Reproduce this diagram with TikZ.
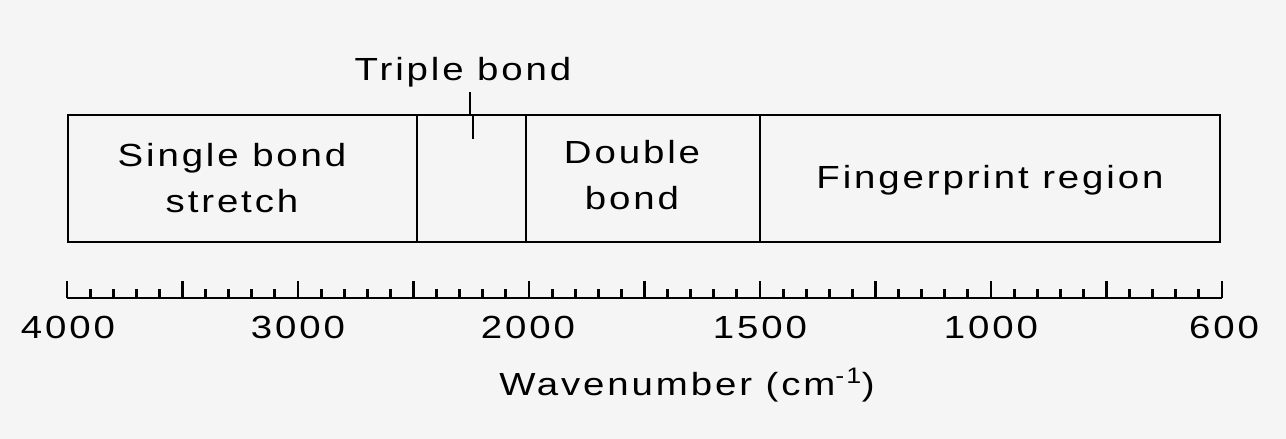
\documentclass[tikz,border=0pt]{standalone}
\usepackage{fontspec}
\setmainfont[FakeStretch=1.2,LetterSpace=9]{Liberation Sans}
\begin{document}
\begin{tikzpicture}[x=0.75pt,y=-0.75pt,
  lbl/.style={font=\fontsize{24}{29}\selectfont, inner sep=0pt, align=center},
  frame/.style={line width=1.7pt},
  tk/.style={line width=2.2pt}]
\fill[white!96!black] (0,0) rectangle (1286,439);
\useasboundingbox (0,0) rectangle (1286,439);
% boxes
\coordinate (b0t) at (68,115); \coordinate (b0b) at (68,242);
\coordinate (b1t) at (417,115); \coordinate (b1b) at (417,242);
\coordinate (b2t) at (526,115); \coordinate (b2b) at (526,242);
\coordinate (b3t) at (760,115); \coordinate (b3b) at (760,242);
\coordinate (b4t) at (1220,115); \coordinate (b4b) at (1220,242);
\draw[frame] (b0t) rectangle (b4b);
\draw[frame] (b1t) -- (b1b);
\draw[frame] (b2t) -- (b2b);
\draw[frame] (b3t) -- (b3b);
\node[lbl] (single) at (232,178) {Single bond\\[6pt]stretch};
\node[lbl] (double) at (632,175) {Double\\[6pt]bond};
\node[lbl] (finger) at (990,180) {Fingerprint region};
\node[lbl] (triple) at (463,72) {Triple bond};
\coordinate (tm) at (470,115);
\draw[line width=1.5pt] (470,92) -- (tm);
\draw[line width=1.5pt] (473,115) -- (473,139);
% axis
\coordinate (a0) at (67,298);
\coordinate (a1) at (1222,298);
\draw[tk] (a0) -- (a1);
\foreach \i in {0,...,50}{
  \pgfmathsetmacro{\xx}{67+\i*23.1}
  \pgfmathtruncatemacro{\m}{mod(\i,5)}
  \ifnum\m=0
    \draw[tk] (\xx,298) -- (\xx,281);
  \else
    \draw[tk] (\xx,298) -- (\xx,289);
  \fi
}
\node[lbl] (n4000) at (68,327) {4000};
\node[lbl] (n3000) at (298,327) {3000};
\node[lbl] (n2000) at (528,327) {2000};
\node[lbl] (n1500) at (760,327) {1500};
\node[lbl] (n1000) at (991,327) {1000};
\node[lbl] (n600) at (1224,327) {600};
\node[lbl] (wn) at (687,385) {Wavenumber (cm\textsuperscript{-1})};
\end{tikzpicture}
\end{document}
